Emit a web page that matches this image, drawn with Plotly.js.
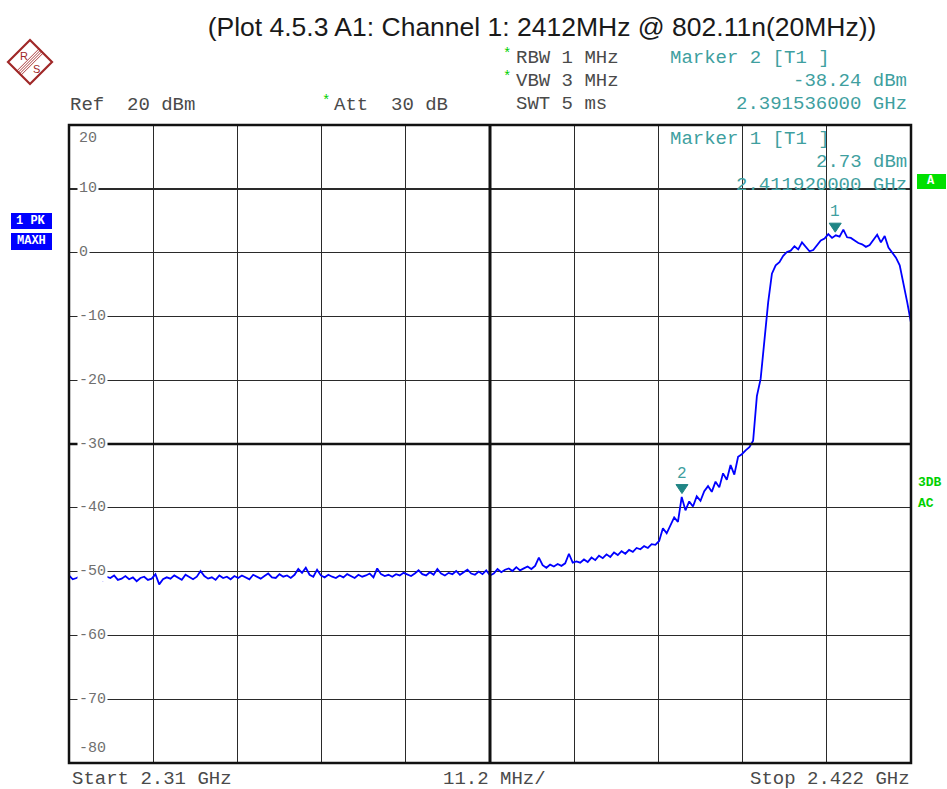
<!DOCTYPE html>
<html>
<head>
<meta charset="utf-8">
<script src="https://cdn.plot.ly/plotly-3.0.1.min.js"></script>
<style>html,body{margin:0;padding:0;background:#fff;}#chart{width:947px;height:789px;}</style>
</head>
<body>
<div id="chart"></div>
<script>
// ---- data ----
const startGHz = 2.31;
const stopGHz = 2.422;
const stepGHz = 0.0005;
const traceDbm = [
  -50.6,-51.2,-51.0,-50.7,-51.3,-50.9,-51.1,-50.5,-51.2,-51.4,-50.8,-51.0,-50.6,-51.3,-51.1,-50.7,-51.2,-50.9,-51.5,-51.0,-50.8,-51.3,-51.1,
  -50.4,-52.0,-51.2,-50.9,-51.1,-50.6,-51.0,-51.3,-50.5,-50.9,-51.2,-50.8,-49.9,-50.7,-51.1,-50.9,-51.3,-50.6,-51.0,-50.8,-51.2,-50.7,
  -51.0,-50.6,-50.9,-51.2,-50.5,-50.8,-51.1,-50.7,-50.3,-50.9,-51.0,-50.4,-50.8,-50.6,-51.0,-50.5,-49.6,-50.2,-49.4,-50.5,-50.8,-49.7,-50.6,
  -50.9,-50.5,-50.8,-51.0,-50.6,-50.9,-50.4,-50.7,-51.0,-50.5,-50.8,-50.6,-50.3,-50.9,-49.5,-50.4,-50.7,-50.5,-50.8,-50.4,-50.6,-50.2,
  -50.5,-50.7,-50.3,-49.8,-50.4,-50.6,-50.1,-50.5,-49.6,-50.3,-50.6,-50.2,-50.4,-49.9,-50.5,-50.1,-49.7,-50.3,-50.5,-50.0,-50.4,-49.8,-50.6,
  -50.3,-49.6,-50.1,-49.7,-49.5,-49.9,-49.3,-49.8,-49.5,-49.2,-49.6,-49.1,-47.8,-49.0,-49.4,-48.9,-49.2,-48.8,-49.1,-48.7,-47.2,-48.6,-48.4,
  -48.6,-48.1,-48.5,-47.8,-48.2,-47.5,-47.9,-47.3,-47.7,-47.0,-47.4,-46.8,-47.2,-46.6,-46.9,-46.3,-46.5,-46.0,-46.3,-45.7,-45.8,
  -45.2,-43.2,-44.0,-42.6,-41.5,-42.2,-38.3,-40.4,-39.0,-39.8,-38.2,-38.9,-37.4,-36.6,-37.5,-35.9,-36.8,-34.6,-35.6,-33.3,-34.8,-32.0,
  -31.6,-31.0,-30.5,-29.5,-22.5,-19.8,-14.0,-7.8,-3.3,-2.0,-1.5,-0.5,0.1,0.3,1.0,0.5,1.6,0.9,0.2,0.4,1.1,1.9,2.2,2.9,2.3,2.7,
  2.5,3.6,2.4,2.3,1.9,1.5,1.3,0.9,1.2,2.1,2.8,1.6,2.6,0.8,0.0,-0.8,-2.0,-4.8,-7.8,-11.0
];
const markerNames = ["1", "2"];
const markerFreqGHz = [2.41192, 2.391536];
const markerLevelDbm = [2.73, -38.24];
const yTickValues = [20, 10, 0, -10, -20, -30, -40, -50, -60, -70, -80];
const yTickLabels = ["20", "10", "0", "-10", "-20", "-30", "-40", "-50", "-60", "-70", "-80"];

const freqGHz = traceDbm.map((_, i) => +(startGHz + i * stepGHz).toFixed(4));

// ---- layout helpers (pixel -> paper) ----
const L = 69, R = 911, T = 125, B = 763;
const PX = p => (p - L) / (R - L);
const PY = p => (B - p) / (B - T);

const mono = "Liberation Mono, DejaVu Sans Mono, monospace";
const hdr = "#4a4a4a";
const teal = "#3f9f9f";
const green = "#00d000";

const ann = [];
function txt(text, px, py, opts) {
  opts = opts || {};
  ann.push(Object.assign({
    text: text, xref: "paper", yref: "paper", x: PX(px), y: PY(py),
    xanchor: "left", yanchor: "middle", showarrow: false,
    font: {family: mono, size: 19, color: hdr}
  }, opts));
}

// header
txt("Ref  20 dBm", 68, 105);
txt("*", 320, 101, {font: {family: mono, size: 14, color: green}});
txt("Att  30 dB", 332, 105);
txt("*", 501, 54, {font: {family: mono, size: 14, color: green}});
txt("RBW 1 MHz", 514, 58);
txt("*", 501, 77, {font: {family: mono, size: 14, color: green}});
txt("VBW 3 MHz", 514, 81);
txt("SWT 5 ms", 514, 104);
txt("Marker 2 [T1 ]", 668, 58, {font: {family: mono, size: 19, color: teal}});
txt("-38.24 dBm", 909, 81, {xanchor: "right", font: {family: mono, size: 19, color: teal}});
txt("2.391536000 GHz", 909, 104, {xanchor: "right", font: {family: mono, size: 19, color: teal}});
txt("Marker 1 [T1 ]", 668, 139, {font: {family: mono, size: 19, color: teal}});
txt("2.73 dBm", 909, 162, {xanchor: "right", font: {family: mono, size: 19, color: teal}});
txt("2.411920000 GHz", 909, 185, {xanchor: "right", font: {family: mono, size: 19, color: teal}});
// bottom
txt("Start 2.31 GHz", 70, 779);
txt("11.2 MHz/", 494, 779, {xanchor: "center"});
txt("Stop 2.422 GHz", 912, 779, {xanchor: "right"});
// side boxes
txt("<b>1 PK</b>", 31, 221, {xanchor: "center", font: {family: mono, size: 12, color: "#ffffff"}});
txt("<b>MAXH</b>", 31, 241, {xanchor: "center", font: {family: mono, size: 12, color: "#ffffff"}});
txt("<b>A</b>", 931, 181, {xanchor: "center", font: {family: mono, size: 12, color: "#ffffff"}});
txt("<b>3DB</b>", 916, 483, {font: {family: mono, size: 13, color: green}});
txt("<b>AC</b>", 916, 503, {font: {family: mono, size: 13, color: green}});
// logo letters
txt("R", 24, 56, {xanchor: "center", font: {family: "Liberation Sans, Arial", size: 11, color: "#a02828"}});
txt("S", 36, 69, {xanchor: "center", font: {family: "Liberation Sans, Arial", size: 11, color: "#a02828"}});

// y labels
yTickValues.forEach((v, i) => {
  let ys = 0;
  if (i === 0) ys = -13;
  if (i === yTickValues.length - 1) ys = 15;
  ann.push({
    text: yTickLabels[i], xref: "paper", yref: "y", x: PX(77), y: v, yshift: ys,
    xanchor: "left", yanchor: "middle", showarrow: false,
    bgcolor: "#ffffff", borderpad: 1,
    font: {family: mono, size: 15, color: "#707070"}
  });
});

const shapes = [
  // thick center vertical & -30 line
  {type: "line", xref: "x", yref: "paper", x0: 2.366, x1: 2.366, y0: 0, y1: 1, line: {color: "#111", width: 3}},
  {type: "line", xref: "paper", yref: "y", x0: 0, x1: 1, y0: -30, y1: -30, line: {color: "#111", width: 2.5}},
  // border
  {type: "rect", xref: "paper", yref: "paper", x0: 0, x1: 1, y0: 0, y1: 1, line: {color: "#111", width: 2.5}},
  // side boxes
  {type: "rect", xref: "paper", yref: "paper", x0: PX(11), x1: PX(52), y0: PY(229), y1: PY(213), fillcolor: "#0000ff", line: {width: 0}},
  {type: "rect", xref: "paper", yref: "paper", x0: PX(11), x1: PX(52), y0: PY(250), y1: PY(233), fillcolor: "#0000ff", line: {width: 0}},
  {type: "rect", xref: "paper", yref: "paper", x0: PX(917), x1: PX(946), y0: PY(189), y1: PY(174), fillcolor: "#00e000", line: {width: 0}},
  // logo diamond
  {type: "path", xref: "paper", yref: "paper",
   path: `M ${PX(30)} ${PY(40)} L ${PX(52)} ${PY(62)} L ${PX(30)} ${PY(84)} L ${PX(8)} ${PY(62)} Z`,
   line: {color: "#a02828", width: 2.2}},
];
// logo stripes
[-3, -1, 1, 3].forEach(o => {
  shapes.push({type: "line", xref: "paper", yref: "paper",
    x0: PX(19 + o * 0.7), y0: PY(73 + o * 0.7), x1: PX(41 + o * 0.7), y1: PY(51 + o * 0.7),
    line: {color: "#a02828", width: 0.9}});
});

// markers: triangle shape anchored at marker value, number above
markerNames.forEach((n, i) => {
  shapes.push({
    type: "path", xref: "x", yref: "y",
    xsizemode: "pixel", ysizemode: "pixel",
    xanchor: markerFreqGHz[i], yanchor: markerLevelDbm[i],
    path: "M -6 12 L 6 12 L 0 3 Z",
    fillcolor: "#1f8585", line: {color: "#1f8585", width: 1}
  });
  ann.push({
    text: n, xref: "x", yref: "y", x: markerFreqGHz[i], y: markerLevelDbm[i],
    xanchor: "center", yanchor: "bottom", yshift: 12, showarrow: false,
    font: {family: mono, size: 16, color: teal}
  });
});

const data = [{
  x: freqGHz, y: traceDbm, type: "scatter", mode: "lines",
  line: {color: "#0000ff", width: 1.8}, hoverinfo: "skip"
}];

const layout = {
  width: 947, height: 789,
  margin: {l: L, r: 947 - R, t: T, b: 789 - B, pad: 0},
  paper_bgcolor: "#ffffff", plot_bgcolor: "#ffffff",
  showlegend: false,
  title: {
    text: "(Plot 4.5.3 A1: Channel 1: 2412MHz @ 802.11n(20MHz))",
    xref: "container", yref: "container", x: 542 / 947, y: 1 - 27 / 789,
    xanchor: "center", yanchor: "middle",
    font: {family: "Liberation Sans, Arial", size: 26.5, color: "#1a1a1a"}
  },
  xaxis: {
    range: [startGHz, stopGHz], tick0: startGHz, dtick: 0.0112,
    showgrid: true, gridcolor: "#2a2a2a", gridwidth: 1.4,
    showticklabels: false, ticks: "", zeroline: false, showline: false, fixedrange: true
  },
  yaxis: {
    range: [-80, 20], tick0: 20, dtick: 10,
    showgrid: true, gridcolor: "#2a2a2a", gridwidth: 1.4,
    showticklabels: false, ticks: "", zeroline: false, showline: false, fixedrange: true
  },
  annotations: ann,
  shapes: shapes
};

Plotly.newPlot("chart", data, layout, {displayModeBar: false, staticPlot: true});
</script>
</body>
</html>
